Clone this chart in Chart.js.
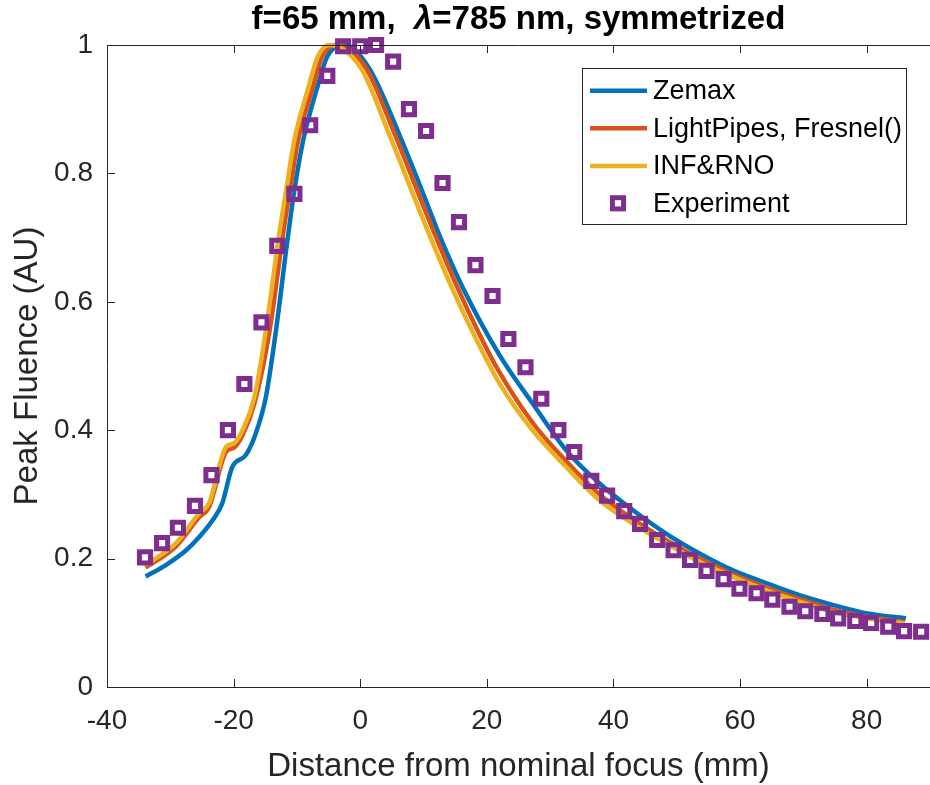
<!DOCTYPE html>
<html>
<head>
<meta charset="utf-8">
<script src="https://cdn.jsdelivr.net/npm/chart.js@4.4.1/dist/chart.umd.min.js"></script>
<style>
  html, body { margin: 0; padding: 0; background: #ffffff; }
  #wrap { width: 930px; height: 785px; position: relative; }
</style>
</head>
<body>
<div id="wrap"><canvas id="c" width="930" height="785"></canvas></div>
<script>
// ---- Data ----
const titleMain1 = "f=65 mm,  ";
const titleGreek = "\u03BB";
const titleMain2 = "=785 nm, symmetrized";
const xAxisTitle = "Distance from nominal focus (mm)";
const yAxisTitle = "Peak Fluence (AU)";
const seriesNames = ["Zemax", "LightPipes, Fresnel()", "INF&RNO", "Experiment"];

const zemaxX = [-33.9, -30.7, -27.5, -25.4, -23.3, -21.8, -20.2, -18.1, -16.5, -14.9, -13.3, -11.5, -10.4, -9.0, -6.9, -5.2, -2.5, 1.4, 6.4, 10.6, 12.5, 16.4, 22.0, 27.2, 32.5, 37.8, 43.0, 48.3, 53.6, 58.8, 64.1, 69.4, 74.6, 79.9, 86.2];
const zemaxY = [0.172, 0.190, 0.213, 0.234, 0.260, 0.286, 0.343, 0.361, 0.395, 0.452, 0.556, 0.696, 0.774, 0.852, 0.930, 0.982, 1.000, 0.964, 0.855, 0.752, 0.704, 0.618, 0.517, 0.442, 0.369, 0.317, 0.276, 0.239, 0.208, 0.182, 0.162, 0.143, 0.128, 0.115, 0.107];

const lightPipesX = [-33.9, -29.1, -25.4, -23.9, -21.2, -19.9, -18.6, -16.7, -14.3, -12.1, -11.1, -9.8, -7.6, -6.0, -3.8, 0.9, 5.5, 9.7, 11.5, 15.1, 18.9, 22.0, 27.2, 32.5, 37.8, 43.0, 48.3, 53.6, 58.8, 64.1, 69.4, 74.6, 79.9, 86.0];
const lightPipesY = [0.186, 0.219, 0.265, 0.280, 0.366, 0.373, 0.392, 0.442, 0.556, 0.712, 0.774, 0.852, 0.930, 0.982, 1.000, 0.964, 0.860, 0.756, 0.712, 0.628, 0.548, 0.490, 0.412, 0.352, 0.300, 0.262, 0.229, 0.200, 0.176, 0.155, 0.137, 0.121, 0.110, 0.101];

const infrnoX = [-33.9, -29.1, -25.4, -23.9, -21.2, -19.9, -18.6, -16.7, -14.9, -12.7, -11.7, -10.4, -8.3, -6.7, -4.9, 0.1, 4.6, 8.8, 10.6, 14.2, 18.0, 22.0, 27.2, 32.5, 37.8, 43.0, 48.3, 53.6, 58.8, 64.1, 69.4, 74.6, 79.9, 86.0];
const infrnoY = [0.190, 0.224, 0.271, 0.286, 0.374, 0.380, 0.400, 0.452, 0.556, 0.712, 0.774, 0.852, 0.930, 0.982, 1.000, 0.964, 0.860, 0.756, 0.712, 0.628, 0.548, 0.473, 0.400, 0.343, 0.291, 0.255, 0.224, 0.195, 0.172, 0.151, 0.133, 0.117, 0.107, 0.099];

const experimentX = [-34.0, -31.3, -28.8, -26.1, -23.5, -20.9, -18.3, -15.6, -13.1, -10.4, -7.9, -5.2, -2.7, 0.0, 2.5, 5.2, 7.7, 10.4, 13.0, 15.6, 18.2, 20.9, 23.4, 26.1, 28.6, 31.3, 33.8, 36.5, 39.0, 41.7, 44.2, 46.9, 49.5, 52.1, 54.7, 57.4, 59.9, 62.6, 65.1, 67.8, 70.3, 73.0, 75.5, 78.2, 80.7, 83.4, 85.9, 88.6];
const experimentY = [0.202, 0.224, 0.248, 0.282, 0.330, 0.400, 0.472, 0.568, 0.687, 0.768, 0.875, 0.952, 0.998, 0.998, 1.000, 0.974, 0.900, 0.866, 0.785, 0.724, 0.657, 0.609, 0.542, 0.498, 0.449, 0.400, 0.366, 0.321, 0.298, 0.274, 0.254, 0.229, 0.213, 0.198, 0.181, 0.168, 0.153, 0.146, 0.136, 0.125, 0.118, 0.114, 0.107, 0.103, 0.100, 0.094, 0.087, 0.086];

const xMin = -40, xMax = 90, xStep = 20;
const yMin = 0, yMax = 1, yStep = 0.2;

// ---- Styling ----
const FONT = '"Liberation Sans", Arial, Helvetica, sans-serif';
const AXIS_COLOR = '#262626';
const COLORS = ['#0072BD', '#D95319', '#EDB120', '#7E2F8E'];

function pts(xs, ys) { return xs.map((x, i) => ({ x: x, y: ys[i] })); }

const lineCommon = {
  showLine: true, pointRadius: 0, pointHoverRadius: 0, borderWidth: 4.5,
  fill: false, cubicInterpolationMode: 'monotone', clip: false
};

const datasets = [
  Object.assign({ label: seriesNames[0], data: pts(zemaxX, zemaxY), borderColor: COLORS[0], order: 3 }, lineCommon),
  Object.assign({ label: seriesNames[1], data: pts(lightPipesX, lightPipesY), borderColor: COLORS[1], order: 2 }, lineCommon),
  Object.assign({ label: seriesNames[2], data: pts(infrnoX, infrnoY), borderColor: COLORS[2], order: 1 }, lineCommon),
  {
    label: seriesNames[3], data: pts(experimentX, experimentY), showLine: false,
    pointStyle: 'rect', pointRadius: 7.9, pointHoverRadius: 7.9, pointBorderWidth: 5,
    borderColor: COLORS[3], pointBorderColor: COLORS[3], backgroundColor: 'rgba(0,0,0,0)',
    pointBackgroundColor: 'rgba(0,0,0,0)', order: 0, clip: false
  }
];

const decorPlugin = {
  id: 'decor',
  afterDraw(chart) {
    const ctx = chart.ctx;
    const ca = chart.chartArea;
    const xs = chart.scales.x, ys = chart.scales.y;
    ctx.save();
    // top spine
    ctx.strokeStyle = AXIS_COLOR; ctx.lineWidth = 1;
    ctx.beginPath();
    ctx.moveTo(ca.left, ca.top + 0.5); ctx.lineTo(ca.right, ca.top + 0.5);
    ctx.stroke();
    // inward ticks
    const TL = 8;
    ctx.beginPath();
    xs.ticks.forEach(t => {
      const px = Math.round(xs.getPixelForValue(t.value)) + 0.5;
      ctx.moveTo(px, ca.bottom); ctx.lineTo(px, ca.bottom - TL);
      ctx.moveTo(px, ca.top); ctx.lineTo(px, ca.top + TL);
    });
    ys.ticks.forEach(t => {
      const py = Math.round(ys.getPixelForValue(t.value)) + 0.5;
      ctx.moveTo(ca.left, py); ctx.lineTo(ca.left + TL, py);
    });
    ctx.stroke();

    // title with italic lambda
    const cx = (ca.left + ca.right) / 2;
    const fB = 'bold 33px ' + FONT, fI = 'italic bold 33px ' + FONT;
    ctx.font = fB; const w1 = ctx.measureText(titleMain1).width;
    const w3 = ctx.measureText(titleMain2).width;
    ctx.font = fI; const w2 = ctx.measureText(titleGreek).width;
    let x0 = cx - (w1 + w2 + w3) / 2;
    const by = 29;
    ctx.fillStyle = '#000000'; ctx.textBaseline = 'alphabetic'; ctx.textAlign = 'left';
    ctx.font = fB; ctx.fillText(titleMain1, x0, by);
    ctx.font = fI; ctx.fillText(titleGreek, x0 + w1, by);
    ctx.font = fB; ctx.fillText(titleMain2, x0 + w1 + w2, by);

    // legend box
    const L = 582.5, T = 68.5, R = 906.5, B = 224.5;
    ctx.fillStyle = '#ffffff';
    ctx.fillRect(L, T, R - L, B - T);
    ctx.strokeStyle = AXIS_COLOR; ctx.lineWidth = 1;
    ctx.strokeRect(L, T, R - L, B - T);
    const rows = [90.7, 128.3, 166, 203.3];
    ctx.font = '27px ' + FONT; ctx.textBaseline = 'middle';
    chart.data.datasets.forEach((ds, i) => {
      const yy = rows[i];
      if (ds.showLine) {
        ctx.strokeStyle = ds.borderColor; ctx.lineWidth = 4.5;
        ctx.beginPath(); ctx.moveTo(590, yy); ctx.lineTo(647, yy); ctx.stroke();
      } else {
        ctx.strokeStyle = ds.pointBorderColor; ctx.lineWidth = 5;
        const s = 7.9 * Math.SQRT1_2;
        ctx.strokeRect(618 - s, yy - s, 2 * s, 2 * s);
      }
      ctx.fillStyle = '#000000';
      ctx.fillText(ds.label, 653, yy + 1);
    });
    ctx.restore();
  }
};

new Chart(document.getElementById('c'), {
  type: 'scatter',
  data: { datasets: datasets },
  options: {
    responsive: false, animation: false, devicePixelRatio: 1,
    layout: { autoPadding: false, padding: { top: 45, left: 0, right: 0, bottom: 0 } },
    plugins: { legend: { display: false }, title: { display: false }, tooltip: { enabled: false } },
    elements: { line: { tension: 0.4 } },
    scales: {
      x: {
        type: 'linear', min: xMin, max: xMax,
        afterFit: s => { s.height = 98; s.paddingLeft = 0; s.paddingRight = 0; },
        grid: { display: false, drawTicks: false },
        border: { display: true, color: AXIS_COLOR, width: 1 },
        ticks: { stepSize: xStep, includeBounds: false, maxRotation: 0, autoSkip: false,
                 font: { family: FONT, size: 28 }, color: AXIS_COLOR, padding: 17 },
        title: { display: true, text: xAxisTitle, color: AXIS_COLOR,
                 font: { family: FONT, size: 33, lineHeight: 1 }, padding: { top: 0, bottom: 2 } }
      },
      y: {
        type: 'linear', min: yMin, max: yMax,
        afterFit: s => { s.width = 107; s.paddingTop = 0; s.paddingBottom = 0; },
        grid: { display: false, drawTicks: false },
        border: { display: true, color: AXIS_COLOR, width: 1 },
        ticks: { stepSize: yStep, font: { family: FONT, size: 28 }, color: AXIS_COLOR, padding: 14,
                 callback: v => String(Math.round(v * 10) / 10) },
        title: { display: true, text: yAxisTitle, color: AXIS_COLOR,
                 font: { family: FONT, size: 33, lineHeight: 1 }, padding: { top: 11, bottom: 0 } }
      }
    }
  },
  plugins: [decorPlugin]
});
</script>
</body>
</html>
